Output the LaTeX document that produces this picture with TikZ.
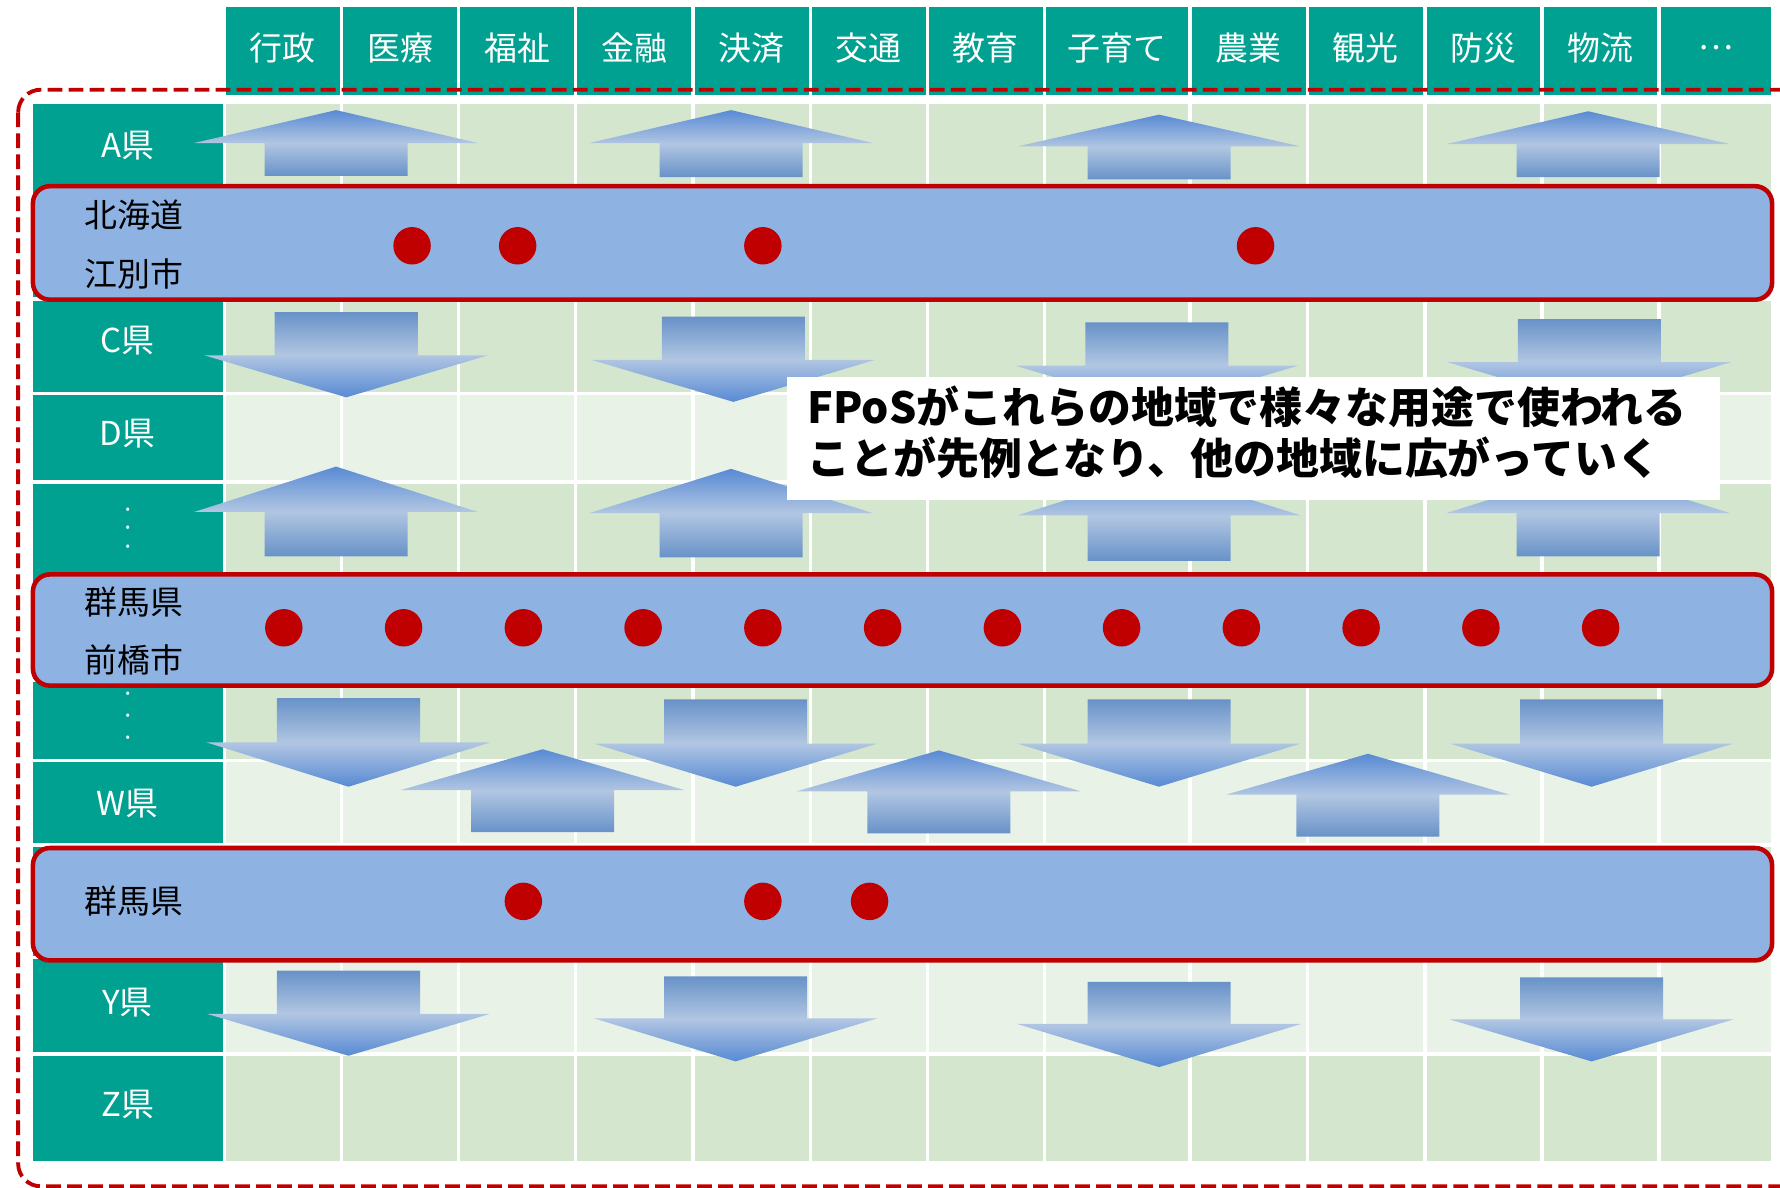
\documentclass[tikz,border=0pt]{standalone}
\usepackage{fontspec}
\setmainfont{Noto Sans CJK JP}
\usetikzlibrary{positioning}

\definecolor{hdrteal}{RGB}{0,161,145}
\definecolor{cellmid}{RGB}{212,231,206}
\definecolor{celllight}{RGB}{233,242,231}
\definecolor{bandblue}{RGB}{142,179,226}
\definecolor{markred}{RGB}{192,0,0}
\definecolor{arrowtip}{RGB}{88,138,212}
\definecolor{arrowtail}{RGB}{104,146,200}
\definecolor{arrowlight}{RGB}{177,198,226}

% left/right edges of the body columns
\newcommand{\colspans}{199/299.4, 302.2/402.6, 405.4/505.8, 508.6/609, 611.8/712.2, 715/815.4, 818.2/918.6, 921.4/1046.6, 1049.6/1150, 1152.8/1253.6, 1256.6/1357, 1360/1460, 1463/1560}

\tikzset{
  lbl/.style={text=white, inner sep=0pt, font=\fontsize{16.5}{20}\selectfont},
  dotlbl/.style={text=white, inner sep=0pt, text height=1.6mm, text depth=0pt, font=\fontsize{6.5}{7}\selectfont},
  bandlbl/.style={text=black, inner sep=0pt, anchor=west, font=\fontsize{16.5}{20}\selectfont},
  band/.style={fill=bandblue, draw=markred, line width=0.8mm, rounded corners=3mm},
  reddot/.style={circle, fill=markred, inner sep=0pt, minimum size=6.6mm},
  upfill/.style={top color=arrowtip, bottom color=arrowtail, middle color=arrowlight},
  downfill/.style={top color=arrowtail, bottom color=arrowtip, middle color=arrowlight},
}

\begin{document}
\begin{tikzpicture}[x=0.2mm, y=-0.2mm]
    \useasboundingbox (0,0) rectangle (1568,1046);
    \clip (0,0) rectangle (1568,1046);

    % Column headers
    \foreach \l/\r/\txt [count=\i] in {199/299.4/行政, 302.2/402.6/医療, 405.4/505.8/福祉, 508.6/609/金融, 611.8/712.2/決済, 715/815.4/交通, 818.2/918.6/教育, 921.4/1046.6/子育て, 1049.6/1150/農業, 1152.8/1253.6/観光, 1256.6/1357/防災, 1360/1460/物流, 1463/1560/…}{
        \fill[hdrteal] (\l,6) rectangle (\r,84);
        \node[lbl] (head\i) at ({(\l+\r)/2},42) {\txt};
    }

    % Body rows (banded)
    \foreach \t/\b/\c in {91.6/210/cellmid, 213/262/celllight, 265/345/cellmid, 348/423/celllight, 426/540/cellmid, 543/598/celllight, 601/668.6/cellmid, 671.5/743/celllight, 746/842/cellmid, 845/927/celllight, 930/1023/cellmid}{
        \fill[hdrteal] (29,\t) rectangle (196,\b);
        \foreach \l/\r in \colspans
            \fill[\c] (\l,\t) rectangle (\r,\b);
    }

    % Row labels
    \node[lbl] (prefA) at (112.5,128) {A県};
    \node[lbl] (prefC) at (112.5,300) {C県};
    \node[lbl] (prefD) at (112.5,382) {D県};
    \foreach \y [count=\k] in {448, 464.5, 481}
        \node[dotlbl] (gapone\k) at (112.5,\y) {•};
    \foreach \y [count=\k] in {610, 630, 649}
        \node[dotlbl] (gaptwo\k) at (112.5,\y) {•};
    \node[lbl] (prefW) at (112.5,708) {W県};
    \node[lbl] (prefY) at (112.5,883) {Y県};
    \node[lbl] (prefZ) at (112.5,973) {Z県};

    % Upward block arrows
    \foreach \cx/\tip/\base/\bot in {296/97/126/155, 644/97/126/156, 1021/101/129/158, 1399/98/127/156,
                                    296/411/451/490, 644/413/452/491, 1021/415/454/494, 1399/413/452/490,
                                    478/660/696/733, 827/661/697/734, 1205/664/700/737}
        \shade[upfill] (\cx,\tip) -- (\cx+125,\base) -- (\cx+63,\base) -- (\cx+63,\bot)
            -- (\cx-63,\bot) -- (\cx-63,\base) -- (\cx-125,\base) -- cycle;

    % Downward block arrows
    \foreach \cx/\top/\base/\tip in {305/275/313/350, 646/279/317/354, 1019/284/322/359, 1400/281/319/356,
                                    307/615/654/693, 648/616/655/693, 1021/616/655/693, 1402/616/655/693,
                                    307/855/893/930, 648/860/897/935, 1021/865/902/940, 1402/861/898/935}
        \shade[downfill] (\cx-63,\top) -- (\cx+63,\top) -- (\cx+63,\base) -- (\cx+125,\base)
            -- (\cx,\tip) -- (\cx-125,\base) -- (\cx-63,\base) -- cycle;

    % Pilot regions
    \draw[band] (29,164) rectangle (1561,264);
    \draw[band] (29,506) rectangle (1561,604);
    \draw[band] (29,747) rectangle (1561,846);

    \node[bandlbl] (ebetsuA) at (74,189.5) {北海道};
    \node[bandlbl] (ebetsuB) at (74,241) {江別市};
    \node[bandlbl] (maebashiA) at (74,530) {群馬県};
    \node[bandlbl] (maebashiB) at (74,581) {前橋市};
    \node[bandlbl] (gunma) at (74,794) {群馬県};

    % Uses in each region
    \foreach \x [count=\k] in {363, 456, 672, 1106}
        \node[reddot] (useE\k) at (\x,216.5) {};
    \foreach \x [count=\k] in {250, 355.5, 461, 566.5, 672, 777.5, 883, 988, 1093.5, 1199, 1304.5, 1410}
        \node[reddot] (useM\k) at (\x,553) {};
    \foreach \x [count=\k] in {461, 672, 766}
        \node[reddot] (useG\k) at (\x,794) {};

    % Message
    \node[fill=white, minimum width=164.4mm, minimum height=21.6mm, inner sep=0pt] (notebox) at (1104,386) {};
    \node[anchor=west, align=left, inner sep=0pt, font=\fontsize{21.5}{25.6}\selectfont\bfseries] (note) at (711,380.5)
        {FPoSがこれらの地域で様々な用途で使われる\\ことが先例となり、他の地域に広がっていく};

    % Outer dashed frame
    \draw[markred, line width=0.68mm, dash pattern=on 2.6mm off 1.1mm, rounded corners=4mm]
        (16,79) rectangle (1590,1045);
\end{tikzpicture}
\end{document}
